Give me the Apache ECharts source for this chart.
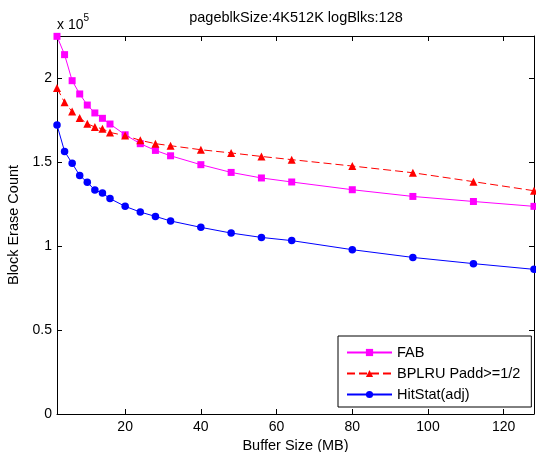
<!DOCTYPE html>
<html>
<head>
<meta charset="utf-8">
<script src="https://cdn.jsdelivr.net/npm/echarts@6/dist/echarts.min.js"></script>
<style>
html, body { margin: 0; padding: 0; background: #fff; }
#chart { width: 536px; height: 452px; }
</style>
</head>
<body>
<div id="chart"></div>
<script>
// buffer sizes in MB
var bufferSize = [2, 4, 6, 8, 10, 12, 14, 16, 20, 24, 28, 32, 40, 48, 56, 64, 80, 96, 112, 128];
// block erase counts
var fab = [224800, 213900, 198400, 190500, 183900, 179200, 176000, 172600, 166200, 160900,
	156900, 153700, 148400, 143800, 140500, 138100, 133500, 129500, 126500, 123600];
var bplru = [194000, 185500, 180000, 176200, 172800, 170800, 169800, 167600, 165700, 162900,
	160900, 159700, 157300, 155400, 153300, 151400, 147600, 143600, 138300, 132900];
var hitstat = [172000, 156300, 149200, 142000, 137900, 133300, 131500, 128200, 123600, 120200,
	117600, 114900, 111100, 107700, 105100, 103200, 97800, 93200, 89500, 86100];

var xTicks = [20, 40, 60, 80, 100, 120];
var yTicks = [0, 50000, 100000, 150000, 200000];
var seriesNames = ['FAB', 'BPLRU Padd>=1/2', 'HitStat(adj)'];

var FONT = '"Liberation Sans", Arial, sans-serif';

function pairs(ys){
	var out = [];
	for (var i = 0; i < bufferSize.length; i++){
		out.push([bufferSize[i], ys[i]]);
	}
	return out;
}

var chart = echarts.init(document.getElementById('chart'));

var axisLine = {show: true, onZero: false, lineStyle: {color: '#000', width: 1}};

var option = {
	animation: false,
	backgroundColor: '#fff',
	grid: {left: 57, right: 2, top: 36, bottom: 38, containLabel: false, outerBoundsMode: 'none'},
	graphic: [
		{
			type: 'text', x: 296, y: 18,
			style: {text: 'pageblkSize:4K512K logBlks:128', fill: '#000', fontSize: 14.5, fontFamily: FONT,
				align: 'center', verticalAlign: 'middle'}
		},
		{
			type: 'text', x: 57, y: 25,
			style: {text: 'x 10', fill: '#000', fontSize: 14, fontFamily: FONT, align: 'left', verticalAlign: 'middle'}
		},
		{
			type: 'text', x: 83.5, y: 18,
			style: {text: '5', fill: '#000', fontSize: 10, fontFamily: FONT, align: 'left', verticalAlign: 'middle'}
		}
	],
	legend: {
		left: 338, top: 336,
		orient: 'vertical',
		data: seriesNames,
		itemWidth: 45, itemHeight: 9, itemGap: 6,
		padding: [9, 11, 5, 8],
		borderColor: '#000', borderWidth: 1, borderRadius: 0,
		backgroundColor: '#fff',
		textStyle: {color: '#000', fontSize: 14.5, fontFamily: FONT}
	},
	xAxis: [
		{
			type: 'value', min: 2, max: 128, position: 'bottom',
			axisLine: axisLine,
			axisTick: {inside: true, length: 5, customValues: xTicks, lineStyle: {color: '#000'}},
			axisLabel: {customValues: xTicks, color: '#000', fontSize: 14, fontFamily: FONT, margin: 6},
			splitLine: {show: false},
			name: 'Buffer Size (MB)', nameLocation: 'middle', nameGap: 24,
			nameTextStyle: {color: '#000', fontSize: 14.5, fontFamily: FONT}
		},
		{
			type: 'value', min: 2, max: 128, position: 'top',
			axisLine: axisLine,
			axisTick: {inside: true, length: 5, customValues: xTicks, lineStyle: {color: '#000'}},
			axisLabel: {show: false},
			splitLine: {show: false}
		}
	],
	yAxis: [
		{
			type: 'value', min: 0, max: 225000, position: 'left',
			axisLine: axisLine,
			axisTick: {inside: true, length: 5, customValues: yTicks, lineStyle: {color: '#000'}},
			axisLabel: {customValues: yTicks, color: '#000', fontSize: 14, fontFamily: FONT, margin: 5,
				formatter: function(v){ return String(v / 100000); }},
			splitLine: {show: false},
			name: 'Block Erase Count', nameLocation: 'middle', nameGap: 35, nameRotate: 90,
			nameTextStyle: {color: '#000', fontSize: 14.5, fontFamily: FONT}
		},
		{
			type: 'value', min: 0, max: 225000, position: 'right',
			axisLine: axisLine,
			axisTick: {inside: true, length: 5, customValues: yTicks, lineStyle: {color: '#000'}},
			axisLabel: {show: false},
			splitLine: {show: false}
		}
	],
	series: [
		{
			name: seriesNames[0], type: 'line', data: pairs(fab),
			symbol: 'rect', symbolSize: 7,
			itemStyle: {color: '#ff00ff'},
			lineStyle: {color: '#ff00ff', width: 1, type: 'solid'}
		},
		{
			name: seriesNames[1], type: 'line', data: pairs(bplru),
			symbol: 'triangle', symbolSize: 8,
			itemStyle: {color: '#ff0000'},
			lineStyle: {color: '#ff0000', width: 1, type: [8, 4]}
		},
		{
			name: seriesNames[2], type: 'line', data: pairs(hitstat),
			symbol: 'circle', symbolSize: 7.5,
			itemStyle: {color: '#0000ff'},
			lineStyle: {color: '#0000ff', width: 1, type: 'solid'}
		}
	]
};

chart.setOption(option);
</script>
</body>
</html>
